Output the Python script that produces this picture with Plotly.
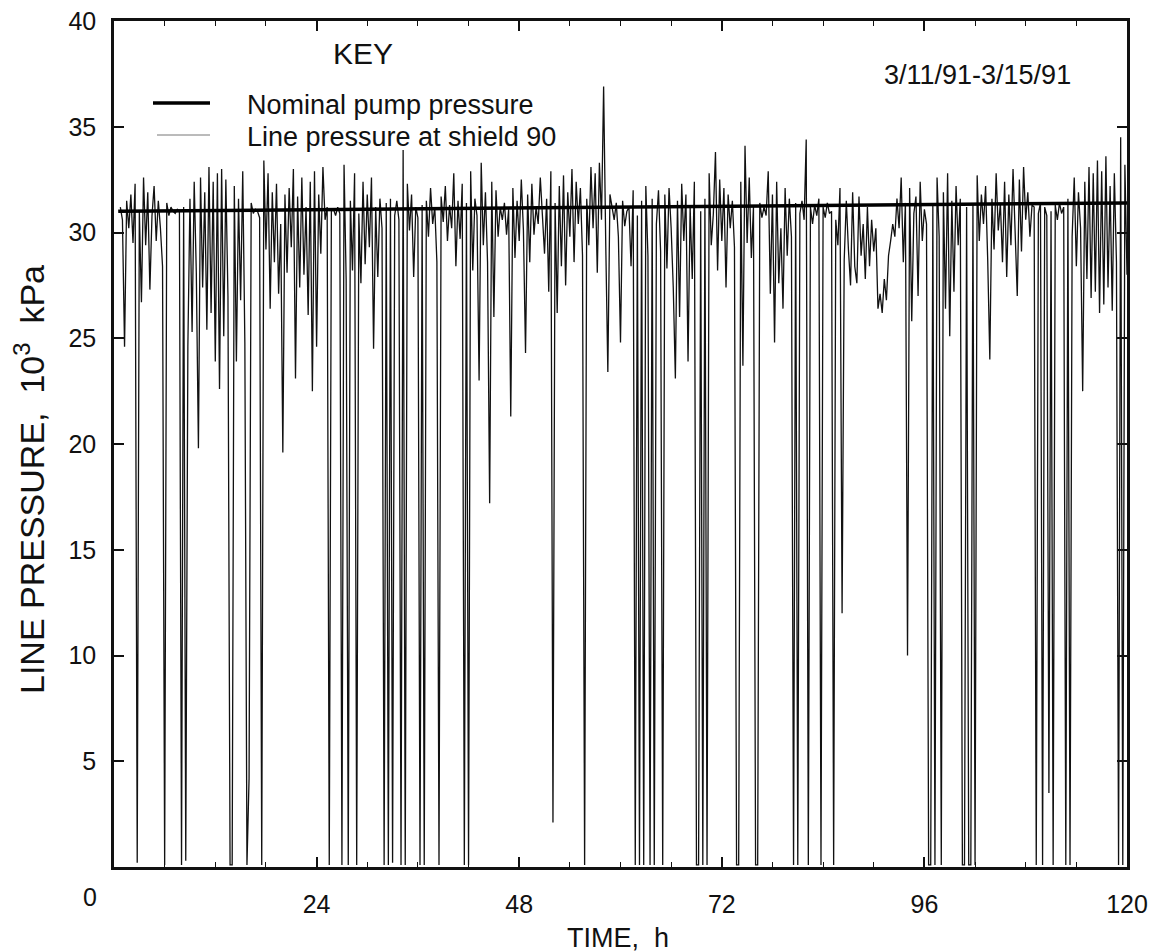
import plotly.graph_objects as go

# ---------------- data ----------------
# line pressure at shield 90, 10^3 kPa, sampled every 0.25 h from t = 0 h
line_pressure = [
    None, None, None, 31.2,   # h0
    30.6, 24.6, 31.5, 30.2,   # h1
    31.8, 29.5, 32.3, 0.2,    # h2
    31.0, 26.7, 32.6, 29.4,   # h3
    31.9, 27.3, 30.8, 32.2,   # h4
    29.6, 31.5, 30.2, 28.4,   # h5
    0.1, 31.4, 30.8, 31.2,    # h6
    31.0, 30.9, 31.1, 31.0,   # h7
    0.1, 31.2, 0.3, 24.6,     # h8
    31.6, 25.3, 32.4, 28.1,   # h9
    19.8, 32.6, 27.4, 31.9,   # h10
    25.4, 33.1, 26.2, 32.4,   # h11
    23.9, 32.8, 22.6, 33.0,   # h12
    25.1, 32.5, 27.0, 0.1,    # h13
    0.1, 32.2, 23.9, 31.6,    # h14
    26.8, 32.9, 24.8, 0.1,    # h15
    4.2, 31.4, 30.9, 31.1,    # h16
    31.0, 30.7, 0.1, 33.4,    # h17
    29.2, 32.8, 26.4, 31.9,   # h18
    28.6, 32.3, 27.1, 30.4,   # h19
    19.6, 31.8, 28.1, 32.1,   # h20
    29.3, 33.0, 23.1, 31.7,   # h21
    27.4, 32.6, 28.0, 31.2,   # h22
    26.1, 32.4, 22.5, 32.9,   # h23
    24.6, 31.8, 29.0, 33.1,   # h24
    30.6, 31.2, 0.1, 31.0,    # h25
    31.1, 30.8, 31.2, 30.9,   # h26
    0.1, 33.2, 27.8, 0.1,     # h27
    31.5, 28.2, 32.8, 0.1,    # h28
    30.9, 27.6, 32.4, 28.5,   # h29
    31.8, 29.3, 32.6, 24.5,   # h30
    31.2, 27.9, 31.6, 30.2,   # h31
    0.1, 31.4, 0.1, 31.6,     # h32
    0.2, 30.8, 31.5, 30.6,    # h33
    0.1, 33.9, 0.1, 32.3,     # h34
    30.1, 31.8, 27.9, 31.2,   # h35
    30.7, 0.1, 31.3, 0.1,     # h36
    31.5, 29.8, 32.1, 30.4,   # h37
    31.2, 28.6, 0.1, 31.7,    # h38
    30.5, 32.2, 29.6, 31.3,   # h39
    30.2, 32.8, 28.4, 31.5,   # h40
    29.7, 32.3, 0.1, 31.4,    # h41
    0.1, 32.9, 28.2, 31.6,    # h42
    30.8, 23.0, 33.3, 29.4,   # h43
    31.9, 28.6, 17.2, 32.4,   # h44
    26.0, 32.0, 29.8, 31.2,   # h45
    30.6, 31.4, 29.9, 31.1,   # h46
    21.3, 32.1, 28.8, 31.5,   # h47
    29.6, 32.5, 30.1, 24.3,   # h48
    31.8, 28.6, 32.3, 29.9,   # h49
    31.2, 30.4, 32.6, 30.8,   # h50
    29.0, 31.6, 27.2, 32.9,   # h51
    2.1, 31.4, 26.2, 32.2,    # h52
    28.4, 32.7, 27.5, 31.9,   # h53
    29.8, 33.0, 28.6, 32.4,   # h54
    30.4, 32.1, 28.9, 0.1,    # h55
    31.6, 29.4, 33.1, 30.2,   # h56
    32.8, 28.1, 33.3, 30.6,   # h57
    36.9, 29.5, 23.4, 31.8,   # h58
    31.2, 30.6, 31.4, 29.8,   # h59
    24.8, 31.5, 30.3, 31.0,   # h60
    31.2, 28.4, 32.0, 0.1,    # h61
    30.8, 0.1, 31.5, 0.1,     # h62
    32.2, 28.9, 0.1, 31.6,    # h63
    0.1, 30.4, 32.0, 29.1,    # h64
    0.1, 31.8, 28.3, 32.1,    # h65
    30.2, 27.4, 23.1, 31.5,   # h66
    26.0, 32.3, 29.6, 31.8,   # h67
    23.9, 31.2, 27.8, 32.4,   # h68
    0.1, 0.1, 31.0, 0.1,      # h69
    31.6, 0.1, 32.8, 29.4,    # h70
    30.9, 33.8, 28.2, 32.5,   # h71
    29.6, 32.1, 27.4, 31.8,   # h72
    30.2, 31.5, 29.3, 0.1,    # h73
    0.1, 32.4, 23.7, 34.1,    # h74
    29.5, 32.6, 28.8, 31.2,   # h75
    0.1, 0.1, 31.4, 30.7,     # h76
    31.2, 30.8, 32.9, 27.1,   # h77
    31.8, 24.8, 32.4, 27.6,   # h78
    30.2, 26.4, 32.1, 28.9,   # h79
    31.6, 29.8, 0.1, 31.4,    # h80
    0.1, 30.9, 31.5, 30.6,    # h81
    34.4, 0.1, 31.2, 30.4,    # h82
    31.3, 30.8, 31.6, 0.1,    # h83
    31.2, 30.7, 31.4, 30.9,   # h84
    31.0, 0.1, 30.6, 29.4,    # h85
    32.1, 12.0, 28.7, 31.5,   # h86
    29.2, 27.5, 31.9, 28.4,   # h87
    27.6, 31.7, 28.9, 30.4,   # h88
    27.8, 31.2, 28.4, 30.6,   # h89
    29.1, 30.2, 26.4, 27.1,   # h90
    26.2, 27.8, 26.8, 28.9,   # h91
    29.6, 30.4, 29.8, 31.6,   # h92
    30.2, 32.6, 28.6, 31.4,   # h93
    10.0, 32.1, 25.8, 30.9,   # h94
    31.7, 27.0, 32.4, 29.6,   # h95
    31.1, 30.4, 0.1, 0.1,     # h96
    31.3, 0.1, 32.6, 29.8,    # h97
    0.1, 31.9, 26.4, 32.8,    # h98
    25.1, 31.5, 27.2, 32.2,   # h99
    29.4, 31.6, 0.1, 0.1,     # h100
    31.2, 0.1, 0.1, 31.4,     # h101
    0.1, 32.7, 29.6, 31.8,    # h102
    30.4, 32.2, 28.7, 24.0,   # h103
    31.6, 29.2, 32.8, 30.1,   # h104
    31.4, 28.6, 32.4, 27.9,   # h105
    31.8, 29.4, 33.0, 30.2,   # h106
    27.0, 32.5, 29.1, 33.1,   # h107
    30.6, 31.9, 29.8, 31.3,   # h108
    31.2, 0.1, 30.9, 31.4,    # h109
    0.1, 31.2, 30.8, 3.5,     # h110
    31.0, 0.1, 31.3, 30.6,    # h111
    31.4, 30.9, 31.2, 0.1,    # h112
    31.6, 0.1, 29.8, 32.6,    # h113
    28.4, 31.9, 30.2, 22.5,   # h114
    32.4, 27.8, 33.1, 26.9,   # h115
    32.8, 27.2, 33.4, 26.2,   # h116
    32.9, 26.6, 33.6, 27.4,   # h117
    32.2, 26.3, 32.8, 28.6,   # h118
    0.1, 34.5, 0.1, 33.2,     # h119
    28.0,                     # h120
]
sample_step_h = 0.25
time_h = [i * sample_step_h for i in range(len(line_pressure))]

# nominal pump pressure (straight reference line)
nominal_time = [0.5, 120.0]
nominal_pressure = [31.0, 31.4]

x_ticks = [24, 48, 72, 96, 120]
x_tick_text = ["24", "48", "72", "96", "120"]
y_ticks = [5, 10, 15, 20, 25, 30, 35, 40]

FONT = "Liberation Sans, Arial, sans-serif"

# ---------------- figure ----------------
fig = go.Figure()
fig.add_trace(go.Scatter(
    x=time_h, y=line_pressure, mode="lines", name="Line pressure at shield 90",
    line=dict(color="#111111", width=1.3), connectgaps=False, showlegend=False,
))
fig.add_trace(go.Scatter(
    x=nominal_time, y=nominal_pressure, mode="lines", name="Nominal pump pressure",
    line=dict(color="#000000", width=3.5), showlegend=False,
))

L, R, T, B = 114, 23, 21, 85
W, H = 1150, 952
pw, ph = W - L - R, H - T - B


def px(xp):
    return (xp - L) / pw


def py(yp):
    return (H - B - yp) / ph


fig.update_layout(
    width=W, height=H, autosize=False,
    margin=dict(l=L, r=R, t=T, b=B, autoexpand=False),
    paper_bgcolor="white", plot_bgcolor="white",
    font=dict(family=FONT, color="#111111", size=24),
    showlegend=False,
)
fig.update_xaxes(
    range=[0, 120], tickvals=x_ticks, ticktext=x_tick_text, automargin=False,
    ticks="inside", ticklen=10, tickwidth=1.5, tickcolor="#111",
    minor=dict(dtick=6, ticks="inside", ticklen=5, tickwidth=1, tickcolor="#111"),
    showline=True, linecolor="#111", linewidth=2.5, mirror="ticks",
    showgrid=False, zeroline=False,
    tickfont=dict(size=25, family=FONT), ticklabelstandoff=13,
)
fig.update_yaxes(
    range=[0, 40], tickvals=y_ticks, automargin=False,
    ticks="inside", ticklen=10, tickwidth=1.5, tickcolor="#111",
    showline=True, linecolor="#111", linewidth=2.5, mirror="ticks",
    showgrid=False, zeroline=False,
    tickfont=dict(size=25, family=FONT), ticklabelstandoff=10,
)

annotations = [
    dict(text="0", x=0, y=0, xref="x", yref="paper", xshift=-24, yshift=-30,
         showarrow=False, font=dict(size=25), xanchor="center", yanchor="middle"),
    dict(text="KEY", x=px(363), y=py(53), xref="paper", yref="paper",
         showarrow=False, font=dict(size=30), xanchor="center", yanchor="middle"),
    dict(text="Nominal pump pressure", x=px(245), y=py(105), xref="paper", yref="paper",
         showarrow=False, font=dict(size=27), xanchor="left", yanchor="middle"),
    dict(text="Line pressure at shield 90", x=px(245), y=py(137), xref="paper", yref="paper",
         showarrow=False, font=dict(size=27), xanchor="left", yanchor="middle"),
    dict(text="3/11/91-3/15/91", x=px(882), y=py(75), xref="paper", yref="paper",
         showarrow=False, font=dict(size=27), xanchor="left", yanchor="middle"),
    dict(text="LINE PRESSURE,  10<sup>3</sup>  kPa", x=px(29), y=py(480), xref="paper", yref="paper",
         showarrow=False, font=dict(size=34), textangle=-90, xanchor="center", yanchor="middle"),
    dict(text="TIME,  h", x=px(618), y=py(938), xref="paper", yref="paper",
         showarrow=False, font=dict(size=27), xanchor="center", yanchor="middle"),
]
fig.update_layout(annotations=annotations)

fig.add_shape(type="line", xref="paper", yref="paper",
              x0=px(153), x1=px(210), y0=py(103), y1=py(103),
              line=dict(color="#000", width=3.5))
fig.add_shape(type="line", xref="paper", yref="paper",
              x0=px(157), x1=px(210), y0=py(135), y1=py(135),
              line=dict(color="#777", width=1))

fig.write_html("out.html", config={"displayModeBar": False},
               post_script="document.body.style.margin='0px';")
